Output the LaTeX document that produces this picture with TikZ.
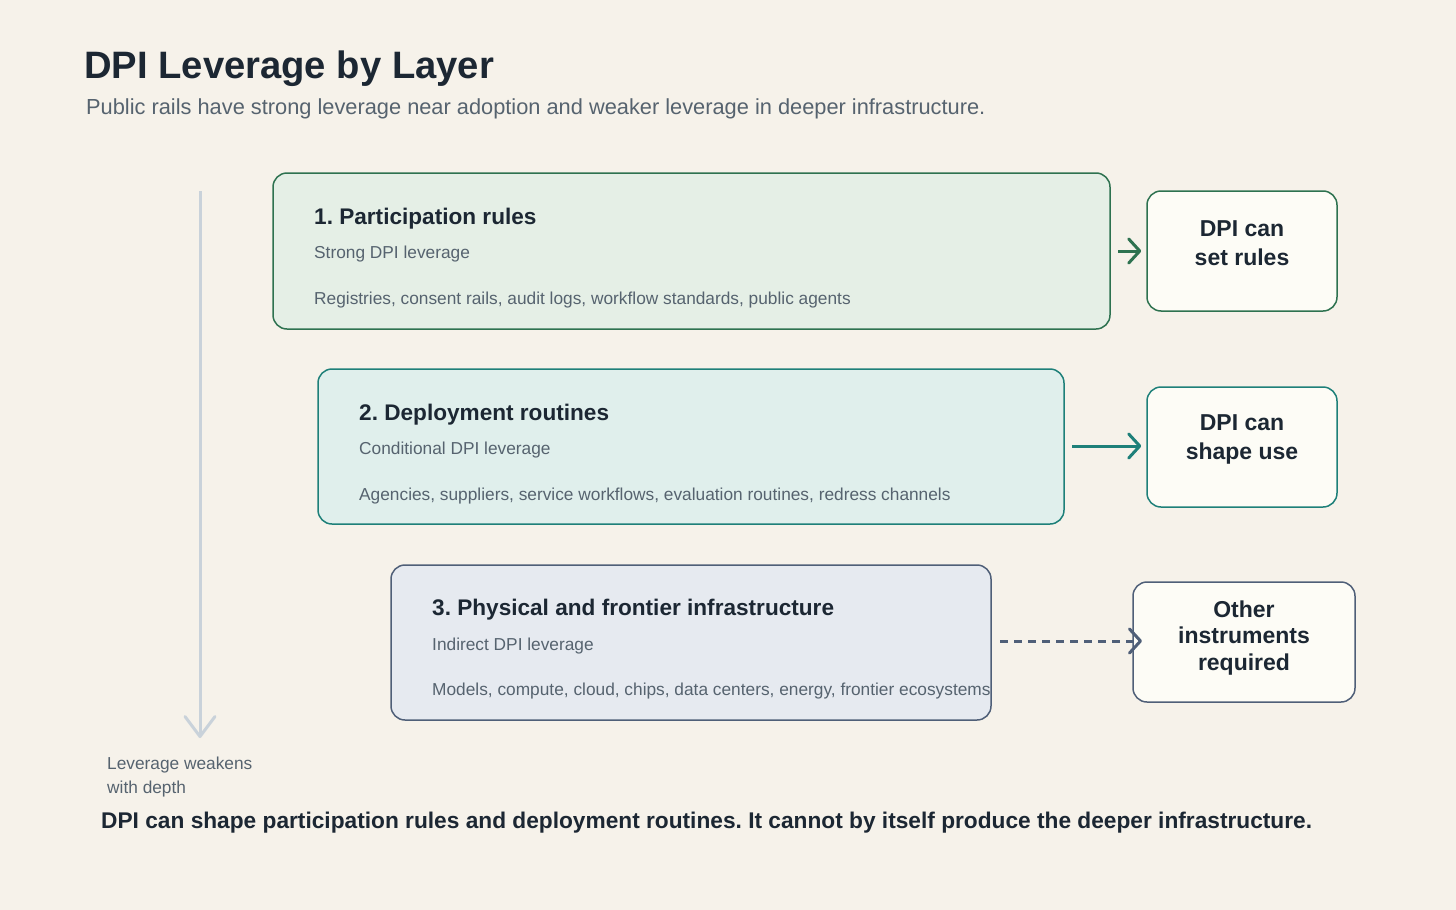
\documentclass[tikz,border=0pt]{standalone}
\usepackage{fontspec}
\setmainfont{Liberation Sans}
\usetikzlibrary{arrows.meta}
\frenchspacing
\definecolor{bg}{HTML}{F6F2EA}
\definecolor{ink}{HTML}{1C2733}
\definecolor{grayt}{HTML}{56636F}
\definecolor{gA}{HTML}{2E7250}
\definecolor{gAf}{HTML}{E5EFE6}
\definecolor{tB}{HTML}{1E8079}
\definecolor{tBf}{HTML}{E0EFEC}
\definecolor{sC}{HTML}{4F5F78}
\definecolor{sCf}{HTML}{E6EAF0}
\definecolor{rbf}{HTML}{FDFCF6}
\definecolor{vline}{HTML}{C9D2DA}
\newcommand{\fs}[2]{\fontsize{#1}{#2}\selectfont}
\tikzset{
  layerbox/.style={draw, rounded corners=14pt, line width=1.5pt},
  resbox/.style={draw, rounded corners=14pt, line width=1.5pt, fill=rbf, align=center, text=ink, font=\fs{23}{29}\bfseries},
  ltitle/.style={anchor=base west, text=ink, font=\fs{22.6}{26}\bfseries, inner sep=0},
  lsub/.style={anchor=base west, text=grayt, font=\fs{17.3}{24}, inner sep=0},
  chev/.style={-{Straight Barb[length=11pt,width=24pt,line width=3pt,line cap=round,round]}},
  conn/.style={line width=3pt, chev, shorten >=5pt},
}
\begin{document}
\begin{tikzpicture}[x=1pt,y=-1pt]
\useasboundingbox (0,0) rectangle (1456,910);
\fill[bg] (0,0) rectangle (1456,910);

% title
\node[anchor=base west, text=ink, font=\fs{38.2}{40}\bfseries, inner sep=0] (title) at (84,78) {DPI Leverage by Layer};
\node[anchor=base west, text=grayt, font=\fs{21.8}{24}, inner sep=0] (subtitle) at (86,114) {Public rails have strong leverage near adoption and weaker leverage in deeper infrastructure.};

% depth arrow
\coordinate (dtop) at (200,191);
\coordinate (dbot) at (200,738);
\draw[vline, line width=3pt, -{Straight Barb[length=20pt,width=30pt,line width=3pt,line cap=round,round]}] (dtop) -- (dbot);
\node[lsub, align=left, anchor=base west] (depth) at (107,793) {Leverage weakens\\with depth};

% layer 1
\draw[layerbox, draw=gA, fill=gAf] (273,173) rectangle (1110,329);
\node[ltitle] (t1) at (314,224) {1. Participation rules};
\node[lsub] (s1) at (314,258) {Strong DPI leverage};
\node[lsub] (i1) at (314,304) {Registries, consent rails, audit logs, workflow standards, public agents};
\node[resbox, draw=gA, minimum width=190pt, minimum height=120pt] (r1) at (1242,251) {};
\node[resbox, draw=none, fill=none] (r1t) at (1242,243) {DPI can\\set rules};
\coordinate (a1s) at (1118,251);
\draw[conn, gA] (a1s) -- (r1.west);

% layer 2
\draw[layerbox, draw=tB, fill=tBf] (318,369) rectangle (1064,524);
\node[ltitle] (t2) at (359,420) {2. Deployment routines};
\node[lsub] (s2) at (359,454) {Conditional DPI leverage};
\node[lsub] (i2) at (359,500) {Agencies, suppliers, service workflows, evaluation routines, redress channels};
\node[resbox, draw=tB, minimum width=190pt, minimum height=120pt] (r2) at (1242,447) {};
\node[resbox, draw=none, fill=none] (r2t) at (1242,439) {DPI can\\shape use};
\coordinate (a2s) at (1072,446);
\draw[conn, tB] (a2s) -- (r2.west |- a2s);

% layer 3
\draw[layerbox, draw=sC, fill=sCf] (391,565) rectangle (991,720);
\node[ltitle] (t3) at (432,615) {3. Physical and frontier infrastructure};
\node[lsub] (s3) at (432,650) {Indirect DPI leverage};
\node[lsub] (i3) at (432,695) {Models, compute, cloud, chips, data centers, energy, frontier ecosystems};
\node[resbox, draw=sC, minimum width=222pt, minimum height=120pt] (r3) at (1244,642) {};
\node[resbox, draw=none, fill=none, font=\fs{23}{26.5}\bfseries] (r3t) at (1244,638) {Other\\instruments\\required};
\coordinate (a3s) at (1000,641);
\coordinate (a3e) at (1142,641);
\draw[sC, line width=3pt, dash pattern=on 8pt off 6pt, chev] (a3s) -- (a3e);

% bottom line
\node[anchor=base west, text=ink, font=\fs{22.7}{26}\bfseries, inner sep=0] (foot) at (101,828) {DPI can shape participation rules and deployment routines. It cannot by itself produce the deeper infrastructure.};
\end{tikzpicture}
\end{document}
